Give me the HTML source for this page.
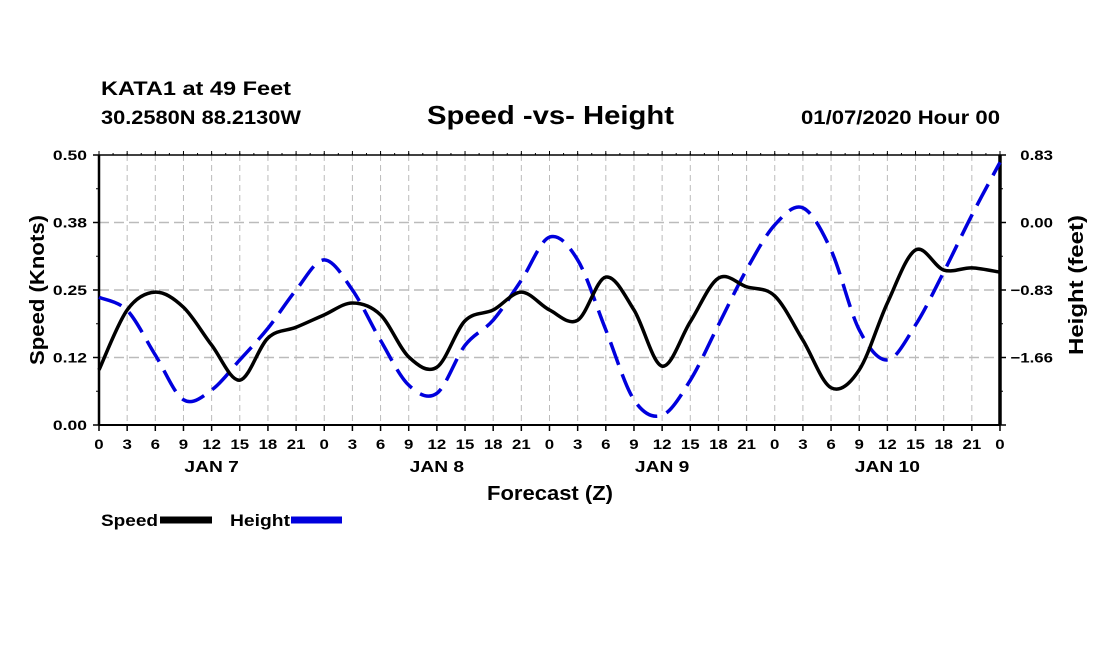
<!DOCTYPE html>
<html><head><meta charset="utf-8"><style>
html,body{margin:0;padding:0;background:#fff;}
svg{display:block;font-family:"Liberation Sans",sans-serif;font-weight:bold;}
</style></head><body>
<svg id="chart" width="1100" height="650">
<text x="101" y="95" font-size="19" textLength="190" lengthAdjust="spacingAndGlyphs">KATA1 at 49 Feet</text>
<text x="101" y="124" font-size="19" textLength="200" lengthAdjust="spacingAndGlyphs">30.2580N 88.2130W</text>
<text x="427" y="124" font-size="26" textLength="247" lengthAdjust="spacingAndGlyphs">Speed -vs- Height</text>
<text x="801" y="124" font-size="19" textLength="199" lengthAdjust="spacingAndGlyphs">01/07/2020 Hour 00</text>
<g id="grid"></g>
<g id="axes"></g>
<g id="series"></g>
<text x="487" y="500" font-size="20" textLength="126" lengthAdjust="spacingAndGlyphs">Forecast (Z)</text>
<text transform="translate(44,365) rotate(-90)" font-size="20" textLength="150" lengthAdjust="spacingAndGlyphs">Speed (Knots)</text>
<text transform="translate(1083,355) rotate(-90)" font-size="20" textLength="140" lengthAdjust="spacingAndGlyphs">Height (feet)</text>
<g>
<text x="101" y="526" font-size="17" textLength="57" lengthAdjust="spacingAndGlyphs">Speed</text>
<line x1="160" y1="520" x2="212" y2="520" stroke="#000" stroke-width="7"/>
<text x="230" y="526" font-size="17" textLength="60" lengthAdjust="spacingAndGlyphs">Height</text>
<line x1="291" y1="520" x2="342" y2="520" stroke="#0000dd" stroke-width="7"/>
</g>
</svg>
<script>
const hours=[0,3,6,9,12,15,18,21,24,27,30,33,36,39,42,45,48,51,54,57,60,63,66,69,72,75,78,81,84,87,90,93,96];
const speedValues=[0.102,0.213,0.246,0.218,0.148,0.083,0.161,0.181,0.204,0.226,0.204,0.126,0.107,0.193,0.213,0.246,0.213,0.194,0.274,0.213,0.109,0.191,0.272,0.256,0.239,0.157,0.069,0.102,0.226,0.324,0.287,0.291,0.283];
const heightValues=[-0.92,-1.08,-1.63,-2.18,-2.06,-1.69,-1.30,-0.83,-0.46,-0.83,-1.45,-2.00,-2.10,-1.51,-1.20,-0.71,-0.18,-0.46,-1.32,-2.18,-2.37,-1.94,-1.26,-0.58,-0.03,0.18,-0.34,-1.32,-1.69,-1.26,-0.61,0.09,0.74];
const speedTicks=["0.00","0.12","0.25","0.38","0.50"];
const heightTicks=["","\u22121.66","\u22120.83","0.00","0.83"];
const hourLabels=["0","3","6","9","12","15","18","21"];
const dayLabels=["JAN 7","JAN 8","JAN 9","JAN 10"];
const X0=99,X1=1000,Y0=425,Y1=155;
const NS="http://www.w3.org/2000/svg";
function xs(h){return X0+(h/96)*(X1-X0);}
function ys(v){return Y0-(v/0.5)*(Y0-Y1);}
function yh(v){return 222.5-(v/0.83)*67.5;}
function mk(tag,attrs,parent){const e=document.createElementNS(NS,tag);for(const k in attrs)e.setAttribute(k,attrs[k]);parent.appendChild(e);return e;}
function widen(t,f){const w=t.getComputedTextLength();t.setAttribute('textLength',(w*f).toFixed(1));t.setAttribute('lengthAdjust','spacingAndGlyphs');}
const grid=document.getElementById('grid'),axes=document.getElementById('axes'),series=document.getElementById('series');
for(let i=1;i<32;i++){const x=xs(i*3);
 const l=mk('line',{x1:x,y1:Y1,x2:x,y2:Y0,stroke:'#bbb','stroke-width':1,'stroke-dasharray':'6,4'},grid);
 
 }
for(let i=1;i<4;i++){const y=Y0-i*67.5;
 const l=mk('line',{x1:X0,y1:y,x2:X1,y2:y,stroke:'#bbb','stroke-width':1.5,'stroke-dasharray':'10,5'},grid);
 
 }
mk('line',{x1:X0,y1:Y1,x2:X0,y2:Y0,stroke:'#000','stroke-width':2.5},axes);
mk('line',{x1:X1,y1:Y1,x2:X1,y2:Y0,stroke:'#000','stroke-width':3.5},axes);
mk('line',{x1:X0,y1:Y0,x2:X1,y2:Y0,stroke:'#000','stroke-width':2},axes);
mk('line',{x1:X0,y1:Y1,x2:X1,y2:Y1,stroke:'#000','stroke-width':1.5},axes);
for(let i=0;i<=32;i++){const x=xs(i*3);
 mk('line',{x1:x,y1:Y0,x2:x,y2:Y0+6,stroke:'#000','stroke-width':1.5},axes);
 mk('line',{x1:x,y1:Y1,x2:x,y2:Y1-4,stroke:'#000','stroke-width':1},axes);
 const t=mk('text',{x:x,y:449,'font-size':14,'text-anchor':'middle'},axes);
 t.textContent=i===32?'0':hourLabels[i%8];
 
 
 widen(t,1.2);}
for(let i=0;i<=64;i++){const x=xs(i*1.5);mk('line',{x1:x,y1:Y1,x2:x,y2:Y1-2,stroke:'#000','stroke-width':1},axes);}
dayLabels.forEach((d,i)=>{const t=mk('text',{x:xs(12+24*i),y:472,'font-size':16,'text-anchor':'middle'},axes);t.textContent=d;
 
 
 widen(t,1.2);});
for(let i=0;i<5;i++){const y=Y0-i*67.5;
 mk('line',{x1:X0-6,y1:y,x2:X0,y2:y,stroke:'#000','stroke-width':1.5},axes);
 mk('line',{x1:X1,y1:y,x2:X1+6,y2:y,stroke:'#000','stroke-width':1.5},axes);
 if(i<4){const ym=y-33.75;mk('line',{x1:X0-3,y1:ym,x2:X0,y2:ym,stroke:'#000','stroke-width':1},axes);mk('line',{x1:X1,y1:ym,x2:X1+3,y2:ym,stroke:'#000','stroke-width':1},axes);}
 const t=mk('text',{x:87,y:y+5,'font-size':14,'text-anchor':'end'},axes);t.textContent=speedTicks[i];
 
 
 widen(t,1.25);
 if(heightTicks[i]){const r=mk('text',{x:1053,y:y+5,'font-size':14,'text-anchor':'end'},axes);r.textContent=heightTicks[i];
 
 
 widen(r,1.2);}}
function smooth(pts){let d='M'+pts[0][0]+','+pts[0][1];
 for(let i=0;i<pts.length-1;i++){const p0=pts[Math.max(0,i-1)],p1=pts[i],p2=pts[i+1],p3=pts[Math.min(pts.length-1,i+2)];
  const c1=[p1[0]+(p2[0]-p0[0])/6,p1[1]+(p2[1]-p0[1])/6],c2=[p2[0]-(p3[0]-p1[0])/6,p2[1]-(p3[1]-p1[1])/6];
  d+=' C'+c1[0]+','+c1[1]+' '+c2[0]+','+c2[1]+' '+p2[0]+','+p2[1];}
 return d;}
const hp=mk('path',{d:smooth(hours.map((h,i)=>[xs(h),yh(heightValues[i])])),fill:'none',stroke:'#0000dd','stroke-width':3.5,'stroke-dasharray':'24,10'},series);


const sp=mk('path',{d:smooth(hours.map((h,i)=>[xs(h),ys(speedValues[i])])),fill:'none',stroke:'#000','stroke-width':3.5},series);


</script>
</body></html>
